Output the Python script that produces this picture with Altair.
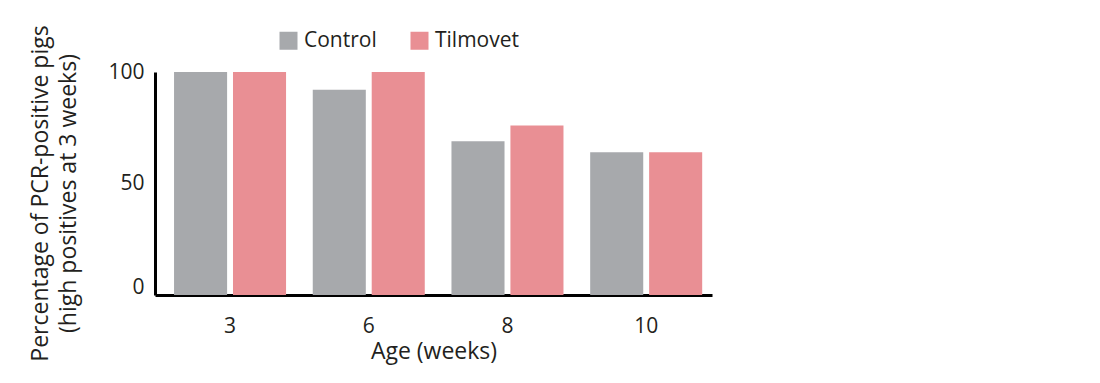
import altair as alt
import pandas as pd

ages = ["3", "6", "8", "10"]
control = [100, 92, 69, 64]
tilmovet = [100, 100, 76, 64]
series = ["Control", "Tilmovet"]
colors = ["#a7a9ac", "#e98f94"]

rows = []
for a, c, t in zip(ages, control, tilmovet):
    rows.append({"age": a, "group": "Control", "value": c})
    rows.append({"age": a, "group": "Tilmovet", "value": t})
df = pd.DataFrame(rows)

FONT = "Open Sans"
TXT = "#231f20"

chart = alt.Chart(df).mark_bar().encode(
    x=alt.X("age:N", sort=ages,
            scale=alt.Scale(paddingInner=0.1925, paddingOuter=0.104, align=0.66),
            axis=alt.Axis(title="Age (weeks)", labelAngle=0, ticks=False,
                          domainColor="#000000", domainWidth=3,
                          labelPadding=20, labelFontSize=21, labelFont=FONT,
                          labelColor=TXT, titleFontSize=23, titleFont=FONT,
                          titleFontWeight="normal", titleColor=TXT,
                          titlePadding=4)),
    xOffset=alt.XOffset("group:N", sort=series,
                        scale=alt.Scale(paddingInner=0.1)),
    y=alt.Y("value:Q", scale=alt.Scale(domain=[0, 100]),
            axis=alt.Axis(title=["Percentage of PCR-positive pigs",
                                 "(high positives at 3 weeks)"],
                          values=[0, 50, 100], ticks=False, grid=False,
                          domainColor="#000000", domainWidth=3,
                          labelPadding=11, labelFontSize=21, labelFont=FONT,
                          labelColor=TXT, titleFontSize=23, titleFont=FONT,
                          titleFontWeight="normal", titleColor=TXT,
                          titlePadding=27, titleLineHeight=28,
                          titleY=121,
                          labelOffset={"condition": {"test": "datum.value == 0", "value": -8}, "value": 0})),
    color=alt.Color("group:N", sort=series,
                    scale=alt.Scale(domain=series, range=colors),
                    legend=alt.Legend(title=None, orient="none",
                                      direction="horizontal",
                                      legendX=123, legendY=-42,
                                      symbolType="square", symbolSize=324,
                                      symbolStrokeWidth=0,
                                      labelFontSize=21, labelFont=FONT,
                                      labelColor=TXT, labelOffset=5,
                                      columnPadding=32)),
).properties(
    width=557, height=223,
    background="white",
    autosize=alt.AutoSizeParams(type="none"),
    padding={"left": 147, "top": 64, "right": 380, "bottom": 70},
).configure_view(strokeWidth=0, stroke=None)

chart.save("out.html", embed_options={"renderer": "svg", "actions": False})
